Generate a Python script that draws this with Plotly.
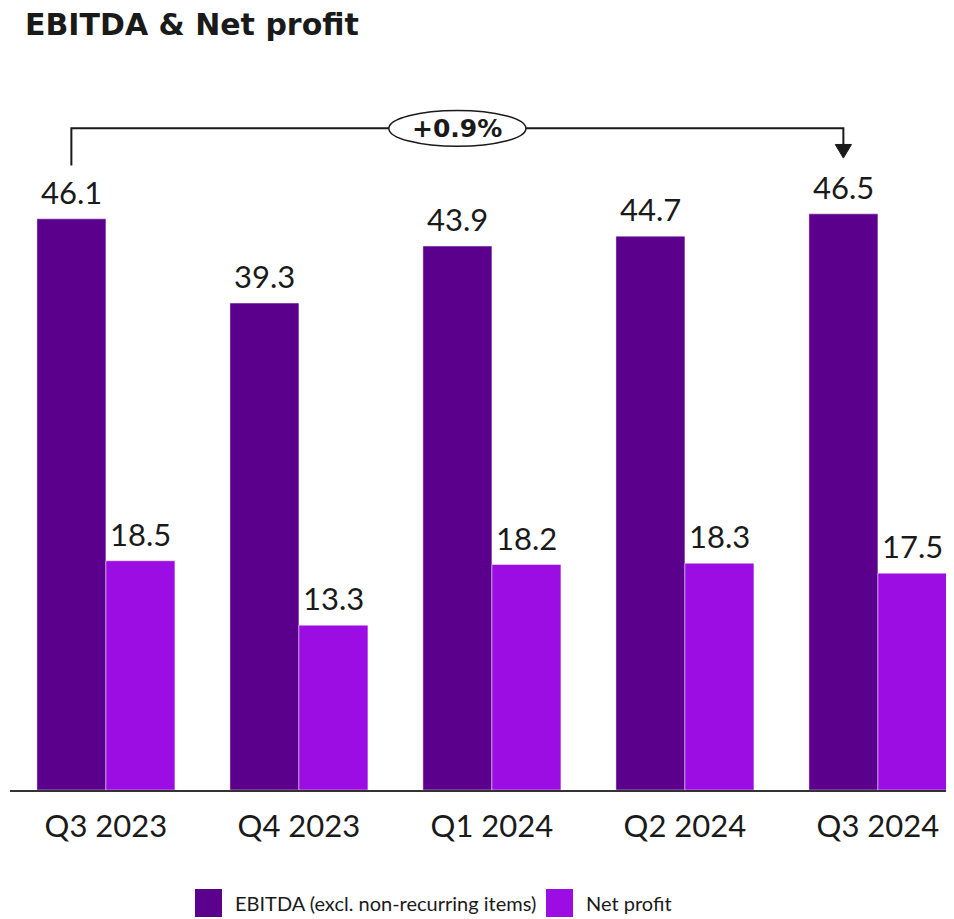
import plotly.graph_objects as go

quarters = ["Q3 2023", "Q4 2023", "Q1 2024", "Q2 2024", "Q3 2024"]
ebitda = [46.1, 39.3, 43.9, 44.7, 46.5]
net_profit = [18.5, 13.3, 18.2, 18.3, 17.5]
change_label = "+0.9%"

EBITDA_COLOR = "#5B008C"
NET_COLOR = "#9B0DE3"
FONT = "Lato"
BOLD_FONT = "DejaVu Sans"

# the page body adds an 8px margin, so the figure is a bit smaller than the window
OFF = 8
W, H = 954 - OFF, 919 - OFF
ML, MR, MT, MB = 2, 0, 92, 129
PW, PH = W - ML - MR, H - MT - MB


def px(x):
    # page pixel -> paper x
    return (x - OFF - ML) / PW


def py(y):
    # page pixel -> paper y
    return (H - MB - (y - OFF)) / PH


fig = go.Figure()
fig.add_trace(go.Bar(x=quarters, y=ebitda, name="EBITDA (excl. non-recurring items)",
                     marker=dict(color=EBITDA_COLOR, line=dict(color="rgba(255,255,255,0.45)", width=1)),
                     showlegend=False))
fig.add_trace(go.Bar(x=quarters, y=net_profit, name="Net profit",
                     marker=dict(color=NET_COLOR, line=dict(color="rgba(255,255,255,0.45)", width=1)),
                     showlegend=False))

# value labels above the bars
half = 0.179
annotations = []
for i, (e, n) in enumerate(zip(ebitda, net_profit)):
    for dx, v in ((-half, e), (half, n)):
        annotations.append(dict(x=i + dx, y=v, xref="x", yref="y", text=f"{v:.1f}",
                                showarrow=False, yanchor="bottom", yshift=6,
                                font=dict(family=FONT, size=31, color="#1a1a1a")))

# bracket from first to last EBITDA bar
y_top = 53.4
x_first = 0 - half
x_last = len(quarters) - 1 - half
shapes = [
    dict(type="path", xref="x", yref="y",
         path=f"M {x_first},50.4 L {x_first},{y_top} L {x_last},{y_top} L {x_last},52.0",
         line=dict(color="#1a1a1a", width=2)),
    dict(type="path", xref="x", yref="y",
         path=f"M {x_last-0.042},52.1 L {x_last+0.042},52.1 L {x_last},51.0 Z",
         fillcolor="#1a1a1a", line=dict(color="#1a1a1a", width=1)),
]
mid = (x_first + x_last) / 2
shapes.append(dict(type="circle", xref="x", yref="y",
                   x0=mid - 0.355, x1=mid + 0.355, y0=y_top - 1.45, y1=y_top + 1.45,
                   fillcolor="white", line=dict(color="#1a1a1a", width=1.5)))
annotations.append(dict(x=mid, y=y_top, xref="x", yref="y", text=f"<b>{change_label}</b>",
                        showarrow=False, font=dict(family=BOLD_FONT, size=25, color="#1a1a1a")))

# legend
legend_items = [("EBITDA (excl. non-recurring items)", EBITDA_COLOR, 195),
                ("Net profit", NET_COLOR, 546)]
for label, color, x0 in legend_items:
    shapes.append(dict(type="rect", xref="paper", yref="paper",
                       x0=px(x0), x1=px(x0 + 27), y0=py(917), y1=py(889),
                       fillcolor=color, line=dict(width=0)))
    annotations.append(dict(x=px(x0 + 38), y=py(903), xref="paper", yref="paper",
                            text=label, showarrow=False, xanchor="left", yanchor="middle",
                            font=dict(family=FONT, size=20, color="#1a1a1a")))

fig.update_layout(
    width=W, height=H,
    margin=dict(l=ML, r=MR, t=MT, b=MB),
    paper_bgcolor="white", plot_bgcolor="white",
    barmode="group", bargap=0.285, bargroupgap=0,
    title=dict(text="<b>EBITDA & Net profit</b>", x=(25 - OFF) / W, xanchor="left",
               y=1 - 6 / H, yanchor="top", yref="container",
               font=dict(family=BOLD_FONT, size=30, color="#1a1a1a")),
    xaxis=dict(range=[-0.497, -0.497 + PW / 193], showline=True, linecolor="#333333", linewidth=1.5,
               showgrid=False, ticks="", ticklabelstandoff=8,
               tickfont=dict(family=FONT, size=31, color="#1a1a1a")),
    yaxis=dict(range=[0, PH / 12.39], visible=False, showgrid=False, zeroline=False),
    shapes=shapes,
    annotations=annotations,
)

fig.write_html("out.html")
